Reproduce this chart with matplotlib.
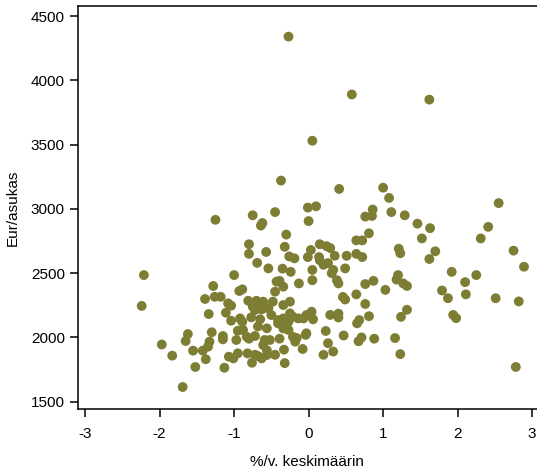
import matplotlib
matplotlib.use("Agg")
import matplotlib.pyplot as plt

plt.rcParams['font.family'] = ['Liberation Sans', 'DejaVu Sans']

# Average annual change (%) and euros per inhabitant, one pair per municipality
growth = [
    -0.27, 0.58, 1.62, 0.05, -0.37, 0.41, 1.00, 1.08, 2.55, -0.45,
    -0.01, 0.10, 0.00, -0.30, 0.86, 0.76, 0.85, 1.11, 1.29, 1.46,
    1.63, 2.41, 2.31, 1.52, -1.25, -0.75, -0.62, -0.64, -0.80, -0.80,
    -0.57, -0.32, -0.26, -0.19, 0.03, -0.01, -0.69, -0.54, -0.35, -0.24,
    0.05, -1.00, -0.39, -0.13, 0.05, 0.81, 0.72, 0.64, 1.21, 1.23,
    0.15, 0.24, 0.29, 0.14, 0.20, 0.35, 0.51, 0.64, 0.72, 0.49,
    0.33, 0.38, 0.76, 0.87, 1.20, 1.70, 1.62, 2.75, 2.89, 1.92,
    2.25, 2.10, 2.11, 1.79, 1.87, 2.51, 2.82, 1.94, 1.98, 2.78,
    1.18, 1.27, 1.32, 1.03, 0.64, 0.76, 0.46, 0.49, 1.32, 1.24,
    0.81, 0.68, 0.65, 0.47, 0.71, 0.67, 0.88, 1.16, 1.23, 0.23,
    0.26, 0.33, 0.20, -0.04, -0.08, -0.32, -0.45, -0.33, -0.39, 0.29,
    0.40, 0.40, 0.31, 0.40, 0.26, 0.15, -2.21, -2.24, -1.97, -1.83,
    -1.69, -1.62, -1.65, -1.55, -1.52, -1.42, -1.38, -1.35, -1.33, -1.30,
    -1.34, -1.39, -1.28, -1.26, -1.18, -1.15, -1.15, -1.13, -1.11, -1.04,
    -1.04, -1.07, -1.01, -0.95, -0.82, -0.76, -0.95, -0.92, -0.89, -0.93,
    -0.89, -0.81, -0.70, -0.61, -0.77, -0.65, -0.88, -0.83, -0.72, -0.59,
    -0.56, -0.56, -0.68, -0.61, -0.75, -0.70, -0.43, -0.34, -0.45, -0.48,
    -0.34, -0.25, -1.08, -0.50, -0.41, -0.34, -0.25, -0.21, -0.27, -0.14,
    -0.07, -0.03, 0.04, 0.06, -0.27, -0.21, -0.32, -0.52, -0.68, -0.72,
    -0.63, -0.54, -0.03, -0.18, -0.68, -0.41, -0.34, -0.16, -0.97, -0.80,
    -0.56, -0.72, -0.63,
]
eur_per_capita = [
    4340, 3890, 3850, 3530, 3220, 3155, 3165, 3085, 3045, 2975,
    3010, 3020, 2905, 2800, 2995, 2940, 2945, 2975, 2950, 2885,
    2850, 2860, 2770, 2770, 2915, 2950, 2890, 2870, 2725, 2650,
    2665, 2705, 2630, 2615, 2680, 2625, 2580, 2537, 2535, 2510,
    2525, 2485, 2440, 2420, 2445, 2810, 2755, 2755, 2690, 2655,
    2725, 2710, 2695, 2625, 2565, 2635, 2635, 2650, 2625, 2537,
    2525, 2445, 2415, 2440, 2485, 2670, 2610, 2675, 2550, 2510,
    2485, 2430, 2335, 2365, 2305, 2305, 2280, 2175, 2150, 1770,
    2450, 2420, 2400, 2370, 2335, 2260, 2315, 2295, 2215, 2160,
    2165, 2135, 2110, 2015, 2000, 1970, 1990, 1995, 1870, 2050,
    1955, 1890, 1865, 2020, 1910, 1800, 1865, 1905, 1990, 2175,
    2155, 2185, 2500, 2420, 2578, 2600, 2485, 2245, 1945, 1858,
    1614, 2026, 1972, 1897, 1770, 1897, 1830, 1928, 1967, 2040,
    2182, 2299, 2400, 2316, 2316, 2011, 1985, 1764, 2192, 2247,
    2130, 1850, 1837, 1876, 1876, 1803, 2052, 2148, 2122, 2361,
    2374, 2285, 2285, 2278, 2156, 2141, 2058, 2005, 2011, 1980,
    2071, 1863, 1855, 1941, 2240, 2225, 2434, 2395, 2356, 2278,
    2252, 2278, 2265, 2174, 2135, 2148, 2187, 2161, 2122, 2148,
    2148, 2174, 2200, 2141, 2058, 2005, 2083, 1980, 2265, 2213,
    2218, 2226, 2032, 1967, 2085, 2110, 2070, 1995, 1980, 1990,
    1900, 1865, 1837,
]

x_ticks = [-3, -2, -1, 0, 1, 2, 3]
y_ticks = [1500, 2000, 2500, 3000, 3500, 4000, 4500]

fig = plt.figure(figsize=(5.37, 4.74), dpi=100)
ax = fig.add_axes([0.1453, 0.1371, 0.8696, 0.8502])

ax.scatter(growth, eur_per_capita, s=50, color='#7d7d34',
           edgecolors='none', zorder=3)

ax.set_xlim(-3.094, 3.172)
ax.set_ylim(1443, 4578)
ax.set_xticks(x_ticks)
ax.set_yticks(y_ticks)
ax.set_xticklabels([str(v) for v in x_ticks])
ax.set_yticklabels([str(v) for v in y_ticks])

for side in ['left', 'bottom', 'top', 'right']:
    ax.spines[side].set_linewidth(1.1)
    ax.spines[side].set_color('black')

ax.tick_params(axis='both', direction='out', length=6, width=1.1,
               labelsize=11, colors='black')
ax.tick_params(axis='x', pad=7)
ax.tick_params(axis='y', pad=3.5)

ax.set_xlabel('%/v. keskimäärin', fontsize=11)
ax.set_ylabel('Eur/asukas', fontsize=11)
ax.xaxis.set_label_coords(0.49, -0.115)
ax.yaxis.set_label_coords(-0.125, 0.5)

fig.savefig('out.png', dpi=100)
